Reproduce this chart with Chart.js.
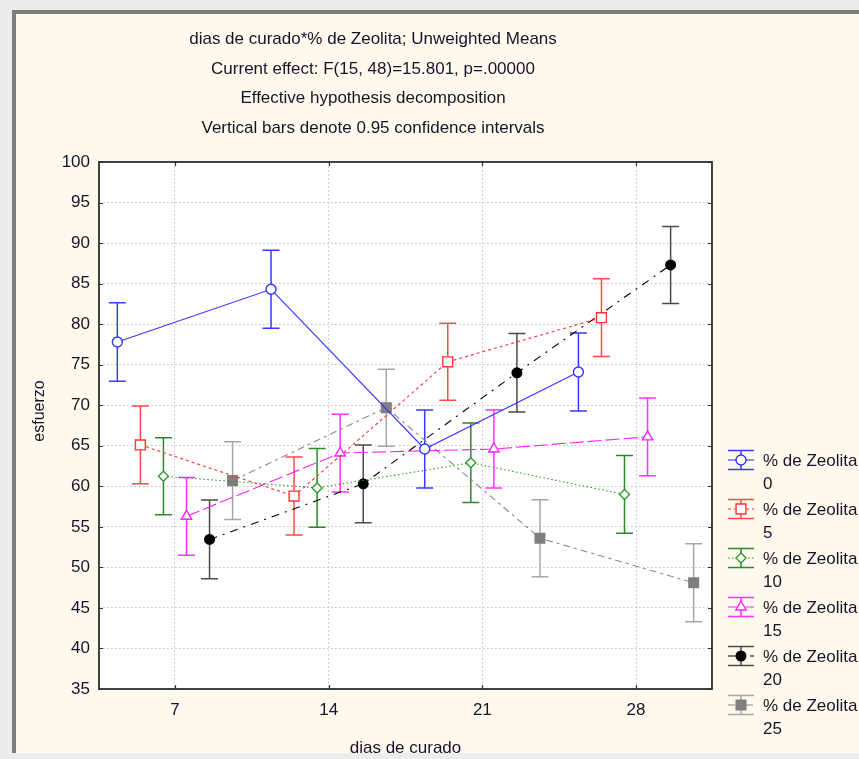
<!DOCTYPE html>
<html>
<head>
<meta charset="utf-8">
<script src="https://cdn.jsdelivr.net/npm/chart.js@4/dist/chart.umd.min.js"></script>
<style>
  html, body { margin: 0; padding: 0; background: #ececec; width: 859px; height: 759px; overflow: hidden; }
  #frame { position: absolute; left: 12px; top: 10px; width: 847px; height: 743px; box-sizing: border-box;
           background: #fff9ee; border-left: 4px solid #7d7d7d; border-top: 4px solid #7d7d7d; }
  #wrap { position: absolute; left: 0; top: 0; width: 859px; height: 753px; overflow: hidden; }
  canvas { display: block; }
</style>
</head>
<body>
<div id="frame"></div>
<div id="wrap"><canvas id="c" width="859" height="759"></canvas></div>
<script>
// ---------------- data ----------------
const days = [7, 14, 21, 28];
const xTickLabels = ['7', '14', '21', '28'];
const titleLines = [
  'dias de curado*% de Zeolita; Unweighted Means',
  'Current effect: F(15, 48)=15.801, p=.00000',
  'Effective hypothesis decomposition',
  'Vertical bars denote 0.95 confidence intervals'
];
const xTitle = 'dias de curado';
const yTitle = 'esfuerzo';
const legendPrefix = '% de Zeolita';
const zeoliteLevels = ['0', '5', '10', '15', '20', '25'];

// means
const zeo0  = [77.8, 84.3, 64.6, 74.1];
const zeo5  = [65.1, 58.8, 75.35, 80.8];
const zeo10 = [61.25, 59.8, 62.9, 59.0];
const zeo15 = [56.3, 64.1, 64.6, 66.1];
const zeo20 = [53.45, 60.3, 74.0, 87.3];
const zeo25 = [60.7, 69.7, 53.6, 48.1];

// half-width of the 0.95 confidence intervals
const ci0  = [4.85, 4.8, 4.8, 4.8];
const ci5  = [4.8, 4.8, 4.75, 4.8];
const ci10 = [4.75, 4.85, 4.9, 4.8];
const ci15 = [4.8, 4.8, 4.8, 4.8];
const ci20 = [4.85, 4.8, 4.85, 4.75];
const ci25 = [4.8, 4.75, 4.75, 4.8];

const means = [zeo0, zeo5, zeo10, zeo15, zeo20, zeo25];
const cis = [ci0, ci5, ci10, ci15, ci20, ci25];

// ---------------- styles ----------------
const lineColors  = ['#3535ff', '#ff3333', '#2e9a2e', '#ff22ff', '#000000', '#8a8a8a'];
const errColors   = ['#3a3aff', '#ff4a4a', '#2b8a2b', '#ff33ff', '#4a4a4a', '#a6a6a6'];
const markFill    = ['#ffffff', '#ffffff', '#ffffff', '#ffffff', '#000000', '#7f7f7f'];
const markStroke  = ['#3535ff', '#ff3333', '#2e9a2e', '#ff22ff', '#000000', '#7f7f7f'];
const pStyles     = ['circle', 'rect', 'rectRot', 'triangle', 'circle', 'rect'];
const pRadius     = [5, 7, 5, 6, 4.8, 6.8];
const dashes      = [[], [3, 3], [1.5, 2.5], [14, 4], [8, 6, 2, 6], [7, 4, 3, 4]];
const spread = 1.05; // horizontal shift (days) between series within a group

const datasets = means.map((vals, k) => ({
  label: legendPrefix + ' ' + zeoliteLevels[k],
  data: vals.map((v, i) => ({ x: days[i] + (k - 2.5) * spread, y: v })),
  borderColor: lineColors[k],
  borderWidth: 1.1,
  borderDash: dashes[k],
  pointStyle: pStyles[k],
  pointRadius: pRadius[k],
  pointHoverRadius: pRadius[k],
  pointBackgroundColor: markFill[k],
  pointBorderColor: markStroke[k],
  pointBorderWidth: 1.4,
  tension: 0,
  fill: false,
  clip: false
}));

const FONT = "'Liberation Sans', Arial, sans-serif";
const TEXT = '#15152a';

// plot area background
const bgPlugin = {
  id: 'plotBg',
  beforeDraw(chart) {
    const { ctx, chartArea: a } = chart;
    ctx.save();
    ctx.fillStyle = '#ffffff';
    ctx.fillRect(a.left, a.top, a.right - a.left, a.bottom - a.top);
    ctx.restore();
  }
};

// error bars
const errPlugin = {
  id: 'errBars',
  beforeDatasetsDraw(chart) {
    const { ctx } = chart;
    const xs = chart.scales.x, ys = chart.scales.y;
    ctx.save();
    ctx.setLineDash([]);
    ctx.lineWidth = 1.5;
    means.forEach((vals, k) => {
      ctx.strokeStyle = errColors[k];
      vals.forEach((v, i) => {
        const px = xs.getPixelForValue(days[i] + (k - 2.5) * spread);
        const yh = ys.getPixelForValue(v + cis[k][i]);
        const yl = ys.getPixelForValue(v - cis[k][i]);
        ctx.beginPath();
        ctx.moveTo(px, yh); ctx.lineTo(px, yl);
        ctx.moveTo(px - 8.5, yh); ctx.lineTo(px + 8.5, yh);
        ctx.moveTo(px - 8.5, yl); ctx.lineTo(px + 8.5, yl);
        ctx.stroke();
      });
    });
    ctx.restore();
  }
};

// frame, inner ticks, y title, legend
const decoPlugin = {
  id: 'deco',
  afterDraw(chart) {
    const { ctx, chartArea: a } = chart;
    const xs = chart.scales.x, ys = chart.scales.y;
    ctx.save();
    ctx.setLineDash([]);
    // inner tick marks
    ctx.strokeStyle = '#333333';
    ctx.lineWidth = 1.2;
    ctx.beginPath();
    ys.ticks.forEach(t => {
      const py = Math.round(ys.getPixelForValue(t.value)) + 0.5;
      ctx.moveTo(a.left, py); ctx.lineTo(a.left + 4, py);
      ctx.moveTo(a.right, py); ctx.lineTo(a.right - 4, py);
    });
    xs.ticks.forEach(t => {
      const px = Math.round(xs.getPixelForValue(t.value)) + 0.5;
      ctx.moveTo(px, a.top); ctx.lineTo(px, a.top + 4);
      ctx.moveTo(px, a.bottom); ctx.lineTo(px, a.bottom - 4);
    });
    ctx.stroke();
    // plot box
    ctx.strokeStyle = '#2e2e2e';
    ctx.lineWidth = 1.8;
    ctx.strokeRect(a.left, a.top, a.right - a.left, a.bottom - a.top);

    // y axis title
    ctx.fillStyle = TEXT;
    ctx.font = '16px ' + FONT;
    ctx.textAlign = 'center';
    ctx.textBaseline = 'middle';
    ctx.save();
    ctx.translate(40, 411);
    ctx.rotate(-Math.PI / 2);
    ctx.fillText(yTitle, 0, 0);
    ctx.restore();

    // legend
    const lx0 = 728, lx1 = 754, lxc = 741;
    zeoliteLevels.forEach((lev, k) => {
      const cy = 460 + k * 49;
      ctx.setLineDash([]);
      ctx.lineWidth = 1.5;
      ctx.strokeStyle = errColors[k];
      ctx.beginPath();
      ctx.moveTo(lx0, cy - 9.5); ctx.lineTo(lx1, cy - 9.5);
      ctx.moveTo(lx0, cy + 9.5); ctx.lineTo(lx1, cy + 9.5);
      ctx.moveTo(lxc, cy - 9.5); ctx.lineTo(lxc, cy + 9.5);
      ctx.stroke();
      ctx.lineWidth = 1.1;
      ctx.strokeStyle = lineColors[k];
      ctx.setLineDash(dashes[k]);
      ctx.beginPath();
      ctx.moveTo(lx0, cy); ctx.lineTo(lx1, cy);
      ctx.stroke();
      ctx.setLineDash([]);
      ctx.fillStyle = markFill[k];
      ctx.strokeStyle = markStroke[k];
      ctx.lineWidth = 1.4;
      Chart.helpers.drawPoint(ctx, { pointStyle: pStyles[k], rotation: 0, radius: pRadius[k], borderWidth: 1.4 }, lxc, cy);
      ctx.fillStyle = TEXT;
      ctx.font = '17px ' + FONT;
      ctx.textAlign = 'left';
      ctx.textBaseline = 'middle';
      ctx.fillText(legendPrefix, 763, cy + 1);
      ctx.fillText(lev, 763, cy + 24);
    });
    ctx.restore();
  }
};

new Chart(document.getElementById('c'), {
  type: 'line',
  data: { datasets },
  options: {
    responsive: false,
    animation: false,
    layout: { padding: { left: 34, right: 147, top: 10, bottom: 0 } },
    plugins: {
      legend: { display: false },
      tooltip: { enabled: false },
      title: {
        display: true,
        text: titleLines,
        color: TEXT,
        font: { family: FONT, size: 17, weight: 'normal', lineHeight: 1.735 },
        padding: { top: 15, bottom: 19 }
      }
    },
    scales: {
      x: {
        type: 'linear',
        min: 3.54, max: 31.46,
        afterBuildTicks: (s) => { s.ticks = days.map(v => ({ value: v })); },
        afterFit: (s) => { s.height = 70; },
        ticks: {
          callback: (v) => xTickLabels[days.indexOf(v)],
          color: TEXT, font: { family: FONT, size: 17 }, padding: 11, maxRotation: 0, autoSkip: false
        },
        grid: { color: '#c4c4c4', lineWidth: 1, drawTicks: false },
        border: { display: false, dash: [1.5, 2.5] },
        title: { display: true, text: xTitle, color: TEXT, font: { family: FONT, size: 17 }, padding: { top: 0, bottom: 0 } }
      },
      y: {
        min: 35, max: 100,
        afterFit: (s) => { s.width = 65; },
        ticks: { stepSize: 5, color: TEXT, font: { family: FONT, size: 17 }, padding: 9 },
        grid: { color: '#c4c4c4', lineWidth: 1, drawTicks: false },
        border: { display: false, dash: [1.5, 2.5] }
      }
    }
  },
  plugins: [bgPlugin, errPlugin, decoPlugin]
});
</script>
</body>
</html>
